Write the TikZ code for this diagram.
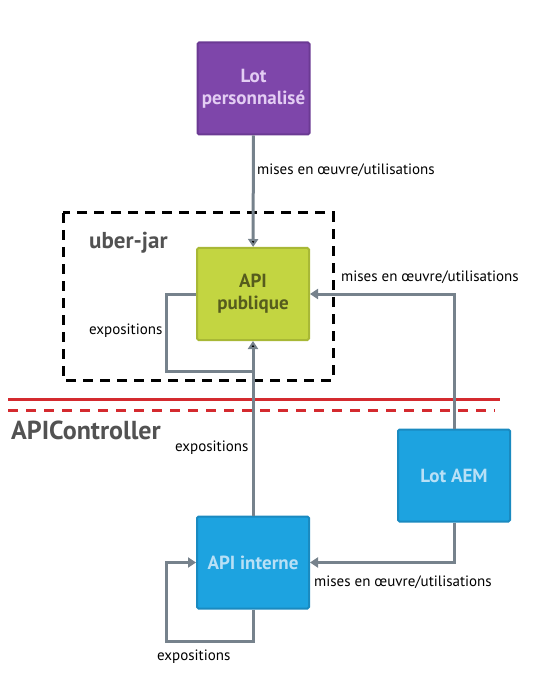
\documentclass[tikz,border=0pt]{standalone}
\usepackage{fontspec}
\setmainfont{PT Sans}
\usetikzlibrary{arrows.meta,positioning}
\definecolor{violet}{HTML}{7E46AA}
\definecolor{violetbord}{HTML}{6B3A93}
\definecolor{violettexte}{HTML}{E3CDF3}
\definecolor{vert}{HTML}{C3D541}
\definecolor{vertbord}{HTML}{A8B836}
\definecolor{verttexte}{HTML}{565C1D}
\definecolor{bleu}{HTML}{1DA3E0}
\definecolor{bleubord}{HTML}{1A8AC0}
\definecolor{bleutexte}{HTML}{B8E0F6}
\definecolor{gris}{HTML}{76828C}
\definecolor{rouge}{HTML}{D42A2F}
\definecolor{titre}{HTML}{525252}
\tikzset{>={Triangle[width=10pt,length=8pt]}}
\tikzset{bloc/.style={shape=rectangle, draw, line width=2pt, rounded corners=1.5pt,
    minimum width=112pt, minimum height=92pt, align=center, inner sep=1pt,
    font=\bfseries\fontsize{19}{22}\selectfont}}
\tikzset{lien/.style={draw=gris, line width=3pt}}
\tikzset{etiq/.style={anchor=west, inner sep=0pt, font=\fontsize{15}{17}\selectfont}}

\begin{document}
\begin{tikzpicture}[x=1pt, y=-1pt]
    \useasboundingbox (0,0) rectangle (556,700);

    % zones
    \draw[black, line width=3pt, dash pattern=on 10pt off 7pt] (63,213) rectangle (333,380);
    \draw[rouge, line width=3pt] (8,399) -- (500,399);
    \draw[rouge, line width=3pt, dash pattern=on 10pt off 8pt] (8,410) -- (495,410);
    \node[anchor=west, inner sep=0pt, text=titre, font=\bfseries\fontsize{23}{25}\selectfont]
      (uberjar) at (89,243) {uber-jar};
    \node[anchor=west, inner sep=0pt, text=titre, font=\bfseries\fontsize{26}{28}\selectfont]
      (apicontroller) at (11,430) {APIController};

    % blocs
    \node[bloc, fill=violet, draw=violetbord, text=violettexte] (perso) at (253.5,88.5) {Lot\\personnalisé};
    \node[bloc, fill=vert, draw=vertbord, text=verttexte] (publique) at (253,294) {API\\publique};
    \node[bloc, fill=bleu, draw=bleubord, text=bleutexte] (aem) at (454,475.5) {Lot AEM};
    \node[bloc, fill=bleu, draw=bleubord, text=bleutexte] (interne) at (253,562.5) {API interne};
    \coordinate (jonction) at (253,371);

    % liens
    \path[lien, ->] (perso) edge (publique);
    \path[lien, ->] (interne) edge (publique);
    \draw[lien] (publique.west) -- ++(-30,0) |- (jonction);
    \draw[lien, ->] (aem.north) |- (publique.east);
    \draw[lien, ->] (aem.south) |- (interne.east);
    \draw[lien, ->] (interne.south) |- ++(-87,32) |- (interne.west);

    % etiquettes
    \node[etiq] (e1) at (257,170) {mises en œuvre/utilisations};
    \node[etiq] (e2) at (341,277) {mises en œuvre/utilisations};
    \node[etiq] (e3) at (314,582) {mises en œuvre/utilisations};
    \node[etiq] (e4) at (89,331) {expositions};
    \node[etiq] (e5) at (175,448) {expositions};
    \node[etiq] (e6) at (157,657) {expositions};
  \end{tikzpicture}
\end{document}
